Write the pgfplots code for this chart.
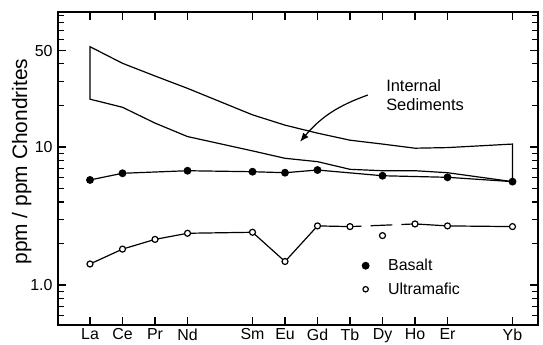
\documentclass[border=0pt]{standalone}
\usepackage{fontspec}
\setmainfont{Liberation Sans}
\usepackage{pgfplots}
\pgfplotsset{compat=1.18}
\usetikzlibrary{arrows.meta}
\begin{document}
\begin{tikzpicture}
\useasboundingbox (-58bp,-20bp) rectangle (485bp,325bp);
\begin{axis}[
  scale only axis, width=480bp, height=313bp,
  ymode=log, xmin=-0.985, xmax=13.785, ymin=0.513, ymax=95.1,
  xtick={0,1,2,3,5,6,7,8,9,10,11,13},
  xticklabels={La,Ce,Pr,Nd,Sm,Eu,Gd,Tb,Dy,Ho,Er,Yb},
  ytick={1,10,50}, yticklabels={1.0,10,50},
  minor ytick={0.6,0.7,0.8,0.9,2,3,4,5,6,7,8,9,20,30,40,60,70,80,90},
  tick align=inside, xtick pos=both, ytick pos=both,
  major tick length=8bp, minor tick length=6bp,
  axis line style={line width=2.2bp},
  every tick/.style={black, line width=1.2bp},
  every minor tick/.style={black, line width=1.2bp},
  tick label style={font=\fontsize{16}{18}\selectfont},
  yticklabel style={xshift=-2bp},
  /pgf/number format/assume math mode=true,
  ylabel={ppm / ppm Chondrites},
  ylabel style={font=\fontsize{21}{24}\selectfont, at={(axis description cs:-0.0756,0.522)}, anchor=center},
  legend style={draw=none, fill=none, at={(axis description cs:0.627,0.2236)}, anchor=north west,
    font=\fontsize{16}{18}\selectfont, row sep=6.5bp},
  legend cell align=left,
  legend image code/.code={\path[draw=none,fill=none] (0bp,0bp) -- (24bp,0bp); \draw[#1] plot coordinates {(3.5bp,0bp)};},
]
% Internal sediments envelope
\addplot[black, line width=1.2bp, forget plot] coordinates {
  (0,53.3) (1,40.4) (2,32.7) (3,26.6) (5,17.1) (6,14.4) (7,12.6) (8,11.2) (9,10.5) (10,9.8) (11,9.9) (13,10.5)
  (13,5.61) (11,6.51) (10,6.73) (9,6.73) (8,6.89) (7,7.83) (6,8.28) (5,9.37) (3,11.9) (2,14.9) (1,19.4) (0,22.2)
} --cycle;
% Ultramafic dashed segment
\addplot[black, line width=1.2bp, dash pattern=on 21.7bp off 9bp, dash phase=10bp, forget plot] coordinates {(8,2.65) (10,2.77)};
% Basalt
\addplot[black, line width=1.2bp, mark=*, mark size=3.3bp, mark options={solid, fill=black}, forget plot] coordinates {
  (0,5.77) (1,6.45) (3,6.73) (5,6.62) (6,6.51) (7,6.81) (9,6.19) (11,6.03) (13,5.61)
};
% Ultramafic
\addplot[black, line width=1.2bp, mark=*, mark size=3bp, mark options={solid, fill=white}, forget plot] coordinates {
  (0,1.42) (1,1.82) (2,2.14) (3,2.37) (5,2.41) (6,1.48) (7,2.68) (8,2.65)
};
\addplot[black, line width=1.2bp, mark=*, mark size=3bp, mark options={solid, fill=white}, forget plot] coordinates {
  (10,2.77) (11,2.68) (13,2.65)
};
\addplot[black, only marks, line width=1.2bp, mark=*, mark size=3bp, mark options={solid, fill=white}, forget plot] coordinates {
  (9,2.28)
};
\addlegendimage{black, only marks, line width=1.2bp, mark=*, mark size=3.3bp, mark options={fill=black}}
\addlegendentry{Basalt}
\addlegendimage{black, only marks, line width=1.2bp, mark=*, mark size=2.7bp, mark options={fill=white}}
\addlegendentry{Ultramafic}
% annotation
\draw[-{Latex[length=9bp,width=7bp]}, line width=1.2bp] (axis cs:8.55,23.8) to[bend right=15] (axis cs:6.46,10.9);
\node[anchor=base west, font=\fontsize{16.5}{18}\selectfont, inner sep=0pt] at (axis cs:9.11,25.2) {Internal};
\node[anchor=base west, font=\fontsize{16.5}{18}\selectfont, inner sep=0pt] at (axis cs:9.11,18.5) {Sediments};
\end{axis}
\end{tikzpicture}
\end{document}
